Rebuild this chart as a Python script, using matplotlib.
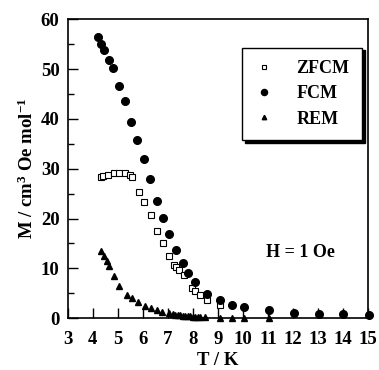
import matplotlib
matplotlib.use("Agg")
import matplotlib.pyplot as plt
from matplotlib.ticker import MultipleLocator

plt.rcParams['font.family'] = ['Liberation Serif', 'DejaVu Serif']
plt.rcParams['font.weight'] = 'bold'
plt.rcParams['mathtext.fontset'] = 'custom'
plt.rcParams['mathtext.rm'] = 'Liberation Serif:bold'
plt.rcParams['mathtext.default'] = 'rm'

fcm_T = [4.22, 4.34, 4.45, 4.65, 4.79, 5.03, 5.30, 5.54, 5.78, 6.06, 6.29, 6.56,
         6.80, 7.05, 7.33, 7.59, 7.82, 8.07, 8.57, 9.07, 9.57, 10.06, 11.06,
         12.06, 13.04, 14.02, 15.03]
fcm_M = [56.4, 55.1, 53.9, 51.9, 50.3, 46.7, 43.5, 39.3, 35.8, 31.9, 27.9, 23.6,
         20.1, 16.8, 13.7, 11.1, 9.1, 7.3, 4.9, 3.7, 2.7, 2.3, 1.6,
         1.1, 0.9, 0.8, 0.7]

zfcm_T = [4.33, 4.42, 4.62, 4.83, 5.06, 5.28, 5.47, 5.55, 5.86, 6.06, 6.31, 6.57,
          6.82, 7.05, 7.26, 7.33, 7.46, 7.63, 7.95, 8.07, 8.30, 8.57, 9.07]
zfcm_M = [28.4, 28.5, 28.7, 29.1, 29.2, 29.1, 28.8, 28.4, 25.4, 23.3, 20.7, 17.6,
          15.1, 12.4, 10.7, 10.2, 9.7, 8.6, 6.0, 5.5, 4.7, 3.7, 2.7]

rem_T = [4.34, 4.45, 4.55, 4.66, 4.85, 5.06, 5.35, 5.56, 5.80, 6.07, 6.31, 6.56,
         6.78, 7.04, 7.20, 7.30, 7.40, 7.50, 7.60, 7.70, 7.80, 7.90, 8.00, 8.10,
         8.20, 8.30, 8.50, 9.07, 9.57, 10.06, 11.06]
rem_M = [13.5, 12.4, 11.5, 10.5, 8.4, 6.4, 4.7, 4.1, 3.3, 2.5, 2.1, 1.6,
         1.3, 1.0, 0.8, 0.7, 0.6, 0.55, 0.5, 0.45, 0.4, 0.35, 0.3, 0.3,
         0.25, 0.2, 0.2, 0.1, 0.1, 0.1, 0.1]

fig = plt.figure(figsize=(3.79, 3.70), dpi=100)
ax = fig.add_axes([0.179, 0.140, 0.792, 0.808])

ax.plot(zfcm_T, zfcm_M, linestyle='none', marker='s', markersize=4.2,
        markerfacecolor='white', markeredgecolor='black', markeredgewidth=0.8,
        label='ZFCM', clip_on=False, zorder=3)
ax.plot(fcm_T, fcm_M, linestyle='none', marker='o', markersize=5.5,
        color='black', label='FCM', clip_on=False, zorder=4)
ax.plot(rem_T, rem_M, linestyle='none', marker='^', markersize=4,
        color='black', label='REM', clip_on=False, zorder=3)

ax.set_xlim(3, 15)
ax.set_ylim(0, 60)
ax.xaxis.set_major_locator(MultipleLocator(1))
ax.yaxis.set_major_locator(MultipleLocator(10))
ax.yaxis.set_minor_locator(MultipleLocator(5))
ax.tick_params(axis='both', which='major', direction='in', length=7, width=1,
               labelsize=13.5, top=False, right=False)
ax.tick_params(axis='x', which='major', pad=9)
ax.tick_params(axis='y', which='major', pad=6)
ax.tick_params(axis='y', which='minor', direction='in', length=4, width=1)
for lab in ax.get_xticklabels() + ax.get_yticklabels():
    lab.set_fontweight('bold')
for s in ax.spines.values():
    s.set_linewidth(1.2)

ax.set_xlabel('T / K', fontsize=13.5, fontweight='bold', labelpad=3)
ax.set_ylabel(r'M / cm$^{3}$ Oe mol$^{-1}$', fontsize=13.5, fontweight='bold',
              labelpad=3)

ax.text(12.3, 13.2, 'H = 1 Oe', fontsize=13, ha='center', va='center')

leg = ax.legend(loc='upper right', bbox_to_anchor=(0.98, 0.905), fontsize=13,
                frameon=True, fancybox=False, edgecolor='black',
                shadow={'color': 'black', 'alpha': 1}, handletextpad=1.3,
                borderpad=0.7, labelspacing=0.45, handlelength=1.0,
                borderaxespad=0, markerscale=0.8)
leg.get_frame().set_linewidth(1.0)

fig.savefig('out.png', dpi=100)
